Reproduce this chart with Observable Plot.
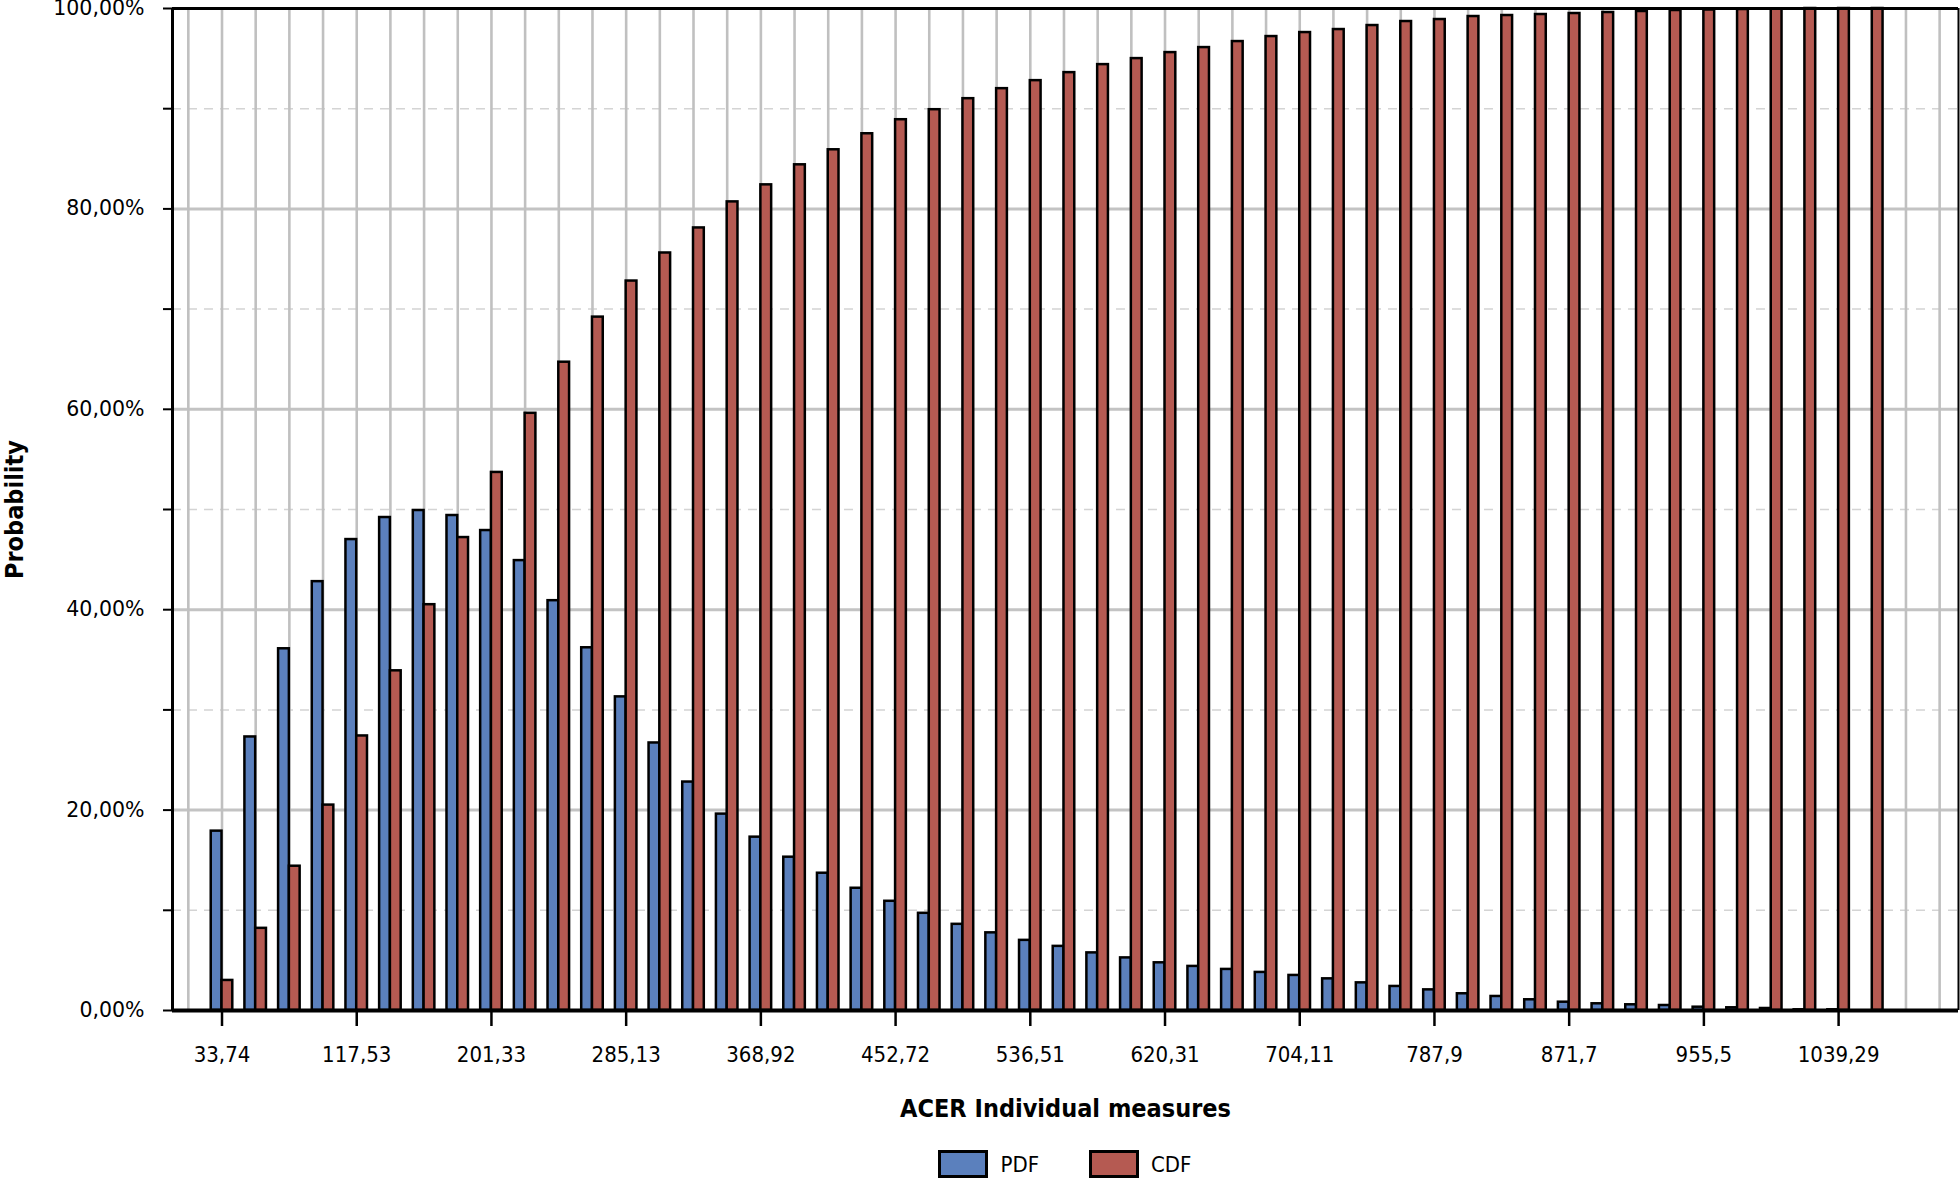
<!DOCTYPE html>
<html>
<head>
<meta charset="utf-8">
<script src="https://cdn.jsdelivr.net/npm/d3@7"></script>
<script src="https://cdn.jsdelivr.net/npm/@observablehq/plot@0.6"></script>
<style>
  html, body { margin: 0; padding: 0; background: #fff; overflow: hidden; }
  #chart svg { display: block; }
  #legend {
    height: 41px; box-sizing: border-box; padding: 10px 2px 0 172px;
    display: flex; justify-content: center; align-items: flex-start;
    font-family: "DejaVu Sans Condensed", "DejaVu Sans", sans-serif; font-size: 22px; color: #000;
  }
  .item { display: inline-flex; align-items: center; height: 28px; }
  .item + .item { margin-left: 50px; }
  .sw { width: 50px; height: 28px; box-sizing: border-box; border: 3px solid #000; margin-right: 12px; }
</style>
</head>
<body>
<div id="chart"></div>
<div id="legend"></div>
<script>
// PDF values (%) per bin
const pdf = [17.9, 27.3, 36.1, 42.8, 47.0, 49.2, 49.9, 49.4, 47.9, 44.9,
             40.9, 36.2, 31.3, 26.7, 22.8, 19.6, 17.3, 15.3, 13.7, 12.2,
             10.9, 9.7, 8.6, 7.75, 7.0, 6.4, 5.75, 5.25, 4.76, 4.4,
             4.1, 3.8, 3.5, 3.16, 2.76, 2.4, 2.06, 1.67, 1.4, 1.07,
             0.83, 0.67, 0.57, 0.5, 0.33, 0.27, 0.2, 0.07, 0.07, 0];
// CDF values (%) per bin
const cdf = [3.0, 8.2, 14.4, 20.5, 27.4, 33.9, 40.5, 47.2, 53.7, 59.6,
             64.7, 69.2, 72.8, 75.6, 78.1, 80.7, 82.4, 84.4, 85.9, 87.5,
             88.9, 89.9, 91.0, 92.0, 92.8, 93.6, 94.4, 95.0, 95.6, 96.1,
             96.7, 97.2, 97.6, 97.9, 98.3, 98.7, 98.9, 99.2, 99.3, 99.4,
             99.5, 99.6, 99.7, 99.8, 99.85, 99.9, 99.95, 100, 100, 100];
// x tick labels (every 4th bin)
const tickLabels = ["33,74", "117,53", "201,33", "285,13", "368,92", "452,72", "536,51",
                    "620,31", "704,11", "787,9", "871,7", "955,5", "1039,29"];
const seriesNames = ["PDF", "CDF"];
const seriesColors = ["#5b80bd", "#b55a52"];
const xTitle = "ACER Individual measures";
const yTitle = "Probability";

const bins = d3.range(pdf.length);
const tickIdx = tickLabels.map((_, k) => k * 4);
const xDomain = [-1.47, bins.length + 1.56];
const gridX = d3.range(-1, bins.length + 2);
const yMajor = [0.2, 0.4, 0.6, 0.8];
const yMinor = [0.1, 0.3, 0.5, 0.7, 0.9];
const yTicks = d3.range(0, 11).map(d => d / 10);
const yLabels = d3.range(0, 6).map(d => d / 5);
const pct = d3.formatLocale({decimal: ",", thousands: ".", grouping: [3], currency: ["", ""]}).format(".2%");
const bw = 0.32;
const cond = "DejaVu Sans Condensed, DejaVu Sans, sans-serif";

const chart = Plot.plot({
  width: 1960,
  height: 1140,
  marginLeft: 172,
  marginRight: 2,
  marginTop: 8,
  marginBottom: 130,
  x: {type: "linear", domain: xDomain, axis: null},
  y: {domain: [0, 1], axis: null},
  style: {fontFamily: "DejaVu Sans, sans-serif", background: "#fff", overflow: "visible", color: "#000"},
  marks: [
    Plot.ruleY(yMinor, {stroke: "#d4d4d4", strokeWidth: 1.5, strokeDasharray: "9,7"}),
    Plot.ruleY(yMajor, {stroke: "#c3c3c3", strokeWidth: 3}),
    Plot.ruleX(gridX, {stroke: "#c0c0c0", strokeWidth: 2.6}),
    Plot.rect(bins, {x1: i => i - bw, x2: i => i, y1: 0, y2: i => pdf[i] / 100,
      fill: seriesColors[0], stroke: "#000", strokeWidth: 2.5}),
    Plot.rect(bins, {x1: i => i, x2: i => i + bw, y1: 0, y2: i => cdf[i] / 100,
      fill: seriesColors[1], stroke: "#000", strokeWidth: 2.5}),
    Plot.ruleY([1], {stroke: "#000", strokeWidth: 3}),
    Plot.ruleX([xDomain[1]], {stroke: "#000", strokeWidth: 2}),
    Plot.ruleX([xDomain[0]], {stroke: "#000", strokeWidth: 3}),
    Plot.ruleY([0], {stroke: "#000", strokeWidth: 4}),
    Plot.axisY({ticks: yTicks, tickSize: 9, tickFormat: () => "", strokeWidth: 2, label: null}),
    Plot.axisY({ticks: yLabels, tickSize: 0, tickPadding: 28, tickFormat: pct, fontSize: 20.5,
      fontFamily: "DejaVu Sans, sans-serif", label: null}),
    Plot.axisX({ticks: tickIdx, tickSize: 16, tickPadding: 20, strokeWidth: 2.5,
      tickFormat: d => tickLabels[d / 4], fontSize: 22, fontFamily: cond, label: null}),
    Plot.text([xTitle], {frameAnchor: "bottom", dy: 106, fontSize: 25, fontWeight: "bold",
      fontFamily: cond, fill: "#000"}),
    Plot.text([yTitle], {frameAnchor: "left", textAnchor: "middle", dx: -158, rotate: -90, fontSize: 25,
      fontWeight: "bold", fontFamily: cond, fill: "#000"})
  ]
});
document.getElementById("chart").appendChild(chart);

const legend = document.getElementById("legend");
seriesNames.forEach((name, k) => {
  const item = document.createElement("div");
  item.className = "item";
  const sw = document.createElement("span");
  sw.className = "sw";
  sw.style.background = seriesColors[k];
  const t = document.createElement("span");
  t.textContent = name;
  item.appendChild(sw);
  item.appendChild(t);
  legend.appendChild(item);
});
</script>
</body>
</html>
